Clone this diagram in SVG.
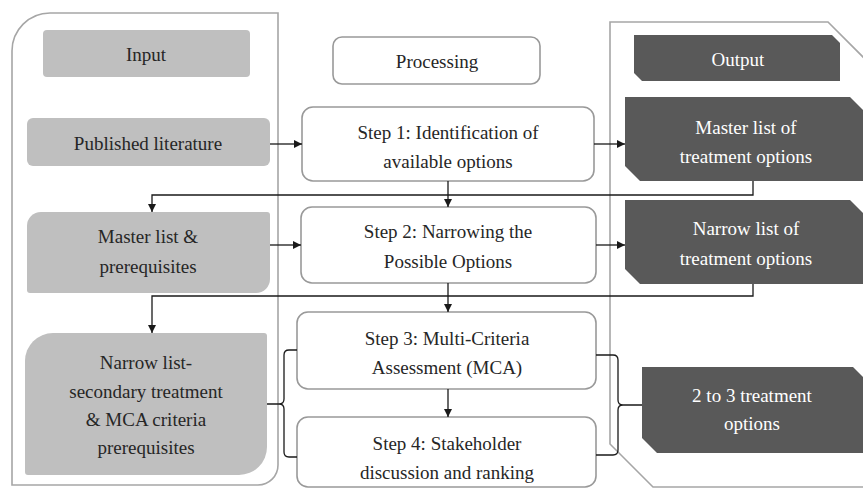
<svg xmlns="http://www.w3.org/2000/svg" width="863" height="490" viewBox="0 0 863 490">
<defs>
<marker id="ah" viewBox="0 0 10 10" refX="10" refY="5" markerWidth="8" markerHeight="8" markerUnits="userSpaceOnUse" orient="auto">
<path d="M0,0 L10,5 L0,10 Z" fill="#1a1a1a"/>
</marker>
</defs>
<rect width="863" height="490" fill="#ffffff"/>
<g fill="none" stroke="#a6a6a6" stroke-width="1.6">
<g id="input-container"><path d="M 50 13 H 278 V 465 A 20 20 0 0 1 258 485 H 12 V 51 A 38 38 0 0 1 50 13 Z"/></g>
<g id="output-container"><path d="M 610 22 H 828 L 868 62 V 487 H 653 L 610 444 Z"/></g>
</g>
<g fill="#bfbfbf">
<g id="input-header"><rect x="43" y="30" width="207" height="47" rx="4"/><text font-family="Liberation Serif" font-size="19" text-anchor="middle" fill="#262626" x="146" y="61">Input</text></g>
<g id="published"><rect x="27" y="118" width="243" height="48" rx="6"/><text font-family="Liberation Serif" font-size="19" text-anchor="middle" fill="#262626" x="148" y="150">Published literature</text></g>
<g id="master-prereq"><path d="M 41 212 H 267 Q 270 212 270 215 V 279 A 14 14 0 0 1 256 293 H 30 Q 27 293 27 290 V 226 A 14 14 0 0 1 41 212 Z"/><text font-family="Liberation Serif" font-size="19" text-anchor="middle" fill="#262626" x="148" y="243">Master list &amp;</text><text font-family="Liberation Serif" font-size="19" text-anchor="middle" fill="#262626" x="148" y="273">prerequisites</text></g>
<g id="narrow-prereq"><path d="M 53 333 H 264 Q 267 333 267 336 V 447 A 28 28 0 0 1 239 475 H 28 Q 25 475 25 472 V 361 A 28 28 0 0 1 53 333 Z"/><text font-family="Liberation Serif" font-size="19" text-anchor="middle" fill="#262626" x="146" y="369">Narrow list-</text><text font-family="Liberation Serif" font-size="19" text-anchor="middle" fill="#262626" x="146" y="398">secondary treatment</text><text font-family="Liberation Serif" font-size="19" text-anchor="middle" fill="#262626" x="146" y="426">&amp; MCA criteria</text><text font-family="Liberation Serif" font-size="19" text-anchor="middle" fill="#262626" x="146" y="454">prerequisites</text></g>
</g>
<g fill="#ffffff" stroke="#999999" stroke-width="1.6">
<g id="processing-header"><rect x="333" y="37" width="207" height="47" rx="9"/><text font-family="Liberation Serif" font-size="19" text-anchor="middle" fill="#262626" stroke="none" x="437" y="68">Processing</text></g>
<g id="step1"><rect x="302" y="107" width="292" height="74" rx="11"/><text font-family="Liberation Serif" font-size="19" text-anchor="middle" fill="#262626" stroke="none" x="448" y="139">Step 1: Identification of</text><text font-family="Liberation Serif" font-size="19" text-anchor="middle" fill="#262626" stroke="none" x="448" y="168">available options</text></g>
<g id="step2"><rect x="301" y="207" width="295" height="76" rx="11"/><text font-family="Liberation Serif" font-size="19" text-anchor="middle" fill="#262626" stroke="none" x="448" y="238">Step 2: Narrowing the</text><text font-family="Liberation Serif" font-size="19" text-anchor="middle" fill="#262626" stroke="none" x="448" y="268">Possible Options</text></g>
<g id="step3"><rect x="297" y="312" width="299" height="77" rx="11"/><text font-family="Liberation Serif" font-size="19" text-anchor="middle" fill="#262626" stroke="none" x="447" y="345">Step 3: Multi-Criteria</text><text font-family="Liberation Serif" font-size="19" text-anchor="middle" fill="#262626" stroke="none" x="447" y="374">Assessment (MCA)</text></g>
<g id="step4"><rect x="297" y="417" width="299" height="70" rx="11"/><text font-family="Liberation Serif" font-size="19" text-anchor="middle" fill="#262626" stroke="none" x="447" y="450">Step 4: Stakeholder</text><text font-family="Liberation Serif" font-size="19" text-anchor="middle" fill="#262626" stroke="none" x="447" y="479">discussion and ranking</text></g>
</g>
<g fill="#595959">
<g id="output-header"><polygon points="634,35 832,35 840,43 840,81 642,81 634,73"/><text font-family="Liberation Serif" font-size="19" text-anchor="middle" fill="#ffffff" x="738" y="66">Output</text></g>
<g id="master-out"><polygon points="625,97 850,97 866,113 866,181 640,181 625,166"/><text font-family="Liberation Serif" font-size="19" text-anchor="middle" fill="#ffffff" x="746" y="134">Master list of</text><text font-family="Liberation Serif" font-size="19" text-anchor="middle" fill="#ffffff" x="746" y="163">treatment options</text></g>
<g id="narrow-out"><polygon points="625,200 850,200 866,216 866,284 640,284 625,269"/><text font-family="Liberation Serif" font-size="19" text-anchor="middle" fill="#ffffff" x="746" y="235">Narrow list of</text><text font-family="Liberation Serif" font-size="19" text-anchor="middle" fill="#ffffff" x="746" y="265">treatment options</text></g>
<g id="final-out"><polygon points="642,367 853,367 866,380 866,453 657,453 642,438"/><text font-family="Liberation Serif" font-size="19" text-anchor="middle" fill="#ffffff" x="752" y="402">2 to 3 treatment</text><text font-family="Liberation Serif" font-size="19" text-anchor="middle" fill="#ffffff" x="752" y="430">options</text></g>
</g>
<g id="connectors" fill="none" stroke="#1a1a1a" stroke-width="1.3">
<path d="M 270 144 H 302" marker-end="url(#ah)"/>
<path d="M 594 144 H 625" marker-end="url(#ah)"/>
<path d="M 448 181 V 207" marker-end="url(#ah)"/>
<path d="M 753 181 V 195 H 152 V 212" marker-end="url(#ah)"/>
<path d="M 270 245 H 301" marker-end="url(#ah)"/>
<path d="M 596 245 H 625" marker-end="url(#ah)"/>
<path d="M 448 283 V 312" marker-end="url(#ah)"/>
<path d="M 753 284 V 296 H 152 V 333" marker-end="url(#ah)"/>
<path d="M 448 389 V 417" marker-end="url(#ah)"/>
<path d="M 297 350 H 289 Q 284 350 284 355 V 399 Q 284 404 279 404 H 267 M 279 404 Q 284 404 284 409 V 452 Q 284 457 289 457 H 297"/>
<path d="M 596 355 H 613 Q 618 355 618 360 V 400 Q 618 405 623 405 H 642 M 623 405 Q 618 405 618 410 V 450 Q 618 455 613 455 H 596"/>
</g>
</svg>
